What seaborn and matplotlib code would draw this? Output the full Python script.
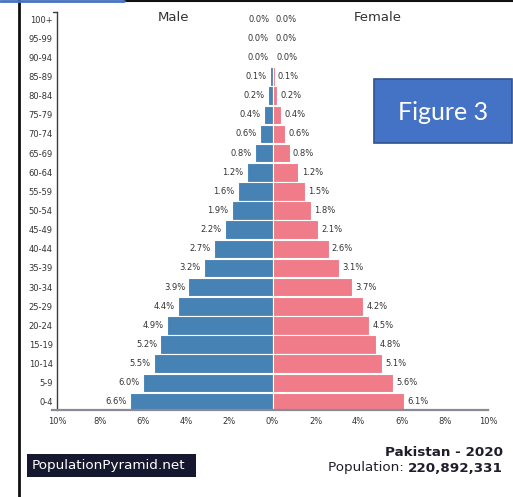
import pandas as pd
import seaborn as sns
import matplotlib.pyplot as plt
from matplotlib.lines import Line2D
from matplotlib.patches import Rectangle

ages = ["100+", "95-99", "90-94", "85-89", "80-84", "75-79", "70-74", "65-69",
        "60-64", "55-59", "50-54", "45-49", "40-44", "35-39", "30-34", "25-29",
        "20-24", "15-19", "10-14", "5-9", "0-4"]
male = [0.0, 0.01, 0.03, 0.1, 0.2, 0.4, 0.6, 0.8, 1.2, 1.6, 1.9, 2.2, 2.7,
        3.2, 3.9, 4.4, 4.9, 5.2, 5.5, 6.0, 6.6]
female = [0.0, 0.01, 0.03, 0.1, 0.2, 0.4, 0.6, 0.8, 1.2, 1.5, 1.8, 2.1, 2.6,
          3.1, 3.7, 4.2, 4.5, 4.8, 5.1, 5.6, 6.1]
xticks = [-10, -8, -6, -4, -2, 0, 2, 4, 6, 8, 10]

male_col = "#4682b4"
female_col = "#f07b89"
txt = "#333333"

df = pd.concat([
    pd.DataFrame({"age": ages, "sex": "Male", "pct": [-m for m in male]}),
    pd.DataFrame({"age": ages, "sex": "Female", "pct": female}),
])

sns.set_theme(style="white")
plt.rcParams["font.family"] = ["DejaVu Sans"]

fig = plt.figure(figsize=(5.13, 4.97), dpi=100)
ax = fig.add_axes([0.1006, 0.175, 0.8507, 0.8008])

sns.barplot(data=df, x="pct", y="age", hue="sex", order=ages, dodge=False,
            palette={"Male": male_col, "Female": female_col}, width=0.97,
            saturation=1, edgecolor="white", linewidth=0.8, legend=False, ax=ax)

ax.set_xlim(-10.25, 10)
ax.set_ylim(20.42, -0.37)
ax.set_xlabel("")
ax.set_ylabel("")
ax.set_xticks(xticks)
ax.set_xticklabels([f"{abs(t)}%" for t in xticks], fontsize=6, color=txt)
ax.tick_params(axis="x", length=4, width=0.8, color="#666666", pad=1, direction="out")
ax.tick_params(axis="y", length=0, labelsize=6, labelcolor=txt, pad=3)
for s in ["top", "right"]:
    ax.spines[s].set_visible(False)
ax.spines["left"].set_position(("data", -10))
ax.spines["left"].set_color("#3a3a4a")
ax.spines["left"].set_linewidth(1)
ax.spines["bottom"].set_color("#8a8a96")
ax.spines["bottom"].set_linewidth(1.6)
# outer top tick of the y axis
ax.plot([-10.2, -10], [-0.37, -0.37], color="#3a3a4a", lw=1, clip_on=False)

for i, (m, f) in enumerate(zip(male, female)):
    ax.text(-m - 0.15, i, f"{m:.1f}%", ha="right", va="center", fontsize=6, color=txt)
    ax.text(f + 0.15, i, f"{f:.1f}%", ha="left", va="center", fontsize=6, color=txt)

ax.text(-4.6, -0.1, "Male", ha="center", va="center", fontsize=9.5, color=txt)
ax.text(4.9, -0.1, "Female", ha="center", va="center", fontsize=9.5, color=txt)

# footer
fig.text(503 / 513, 1 - 452 / 497, "Pakistan - 2020", ha="right", va="center",
         fontsize=9.7, fontweight="bold", color="#1e1e2a")
num = fig.text(503 / 513, 1 - 468 / 497, "220,892,331", ha="right", va="center",
               fontsize=9.7, fontweight="bold", color="#1e1e2a")
ax.annotate("Population: ", xy=(0, 0), xycoords=num, ha="right", va="bottom",
            fontsize=9.7, color="#1e1e2a", annotation_clip=False)
fig.add_artist(Rectangle((27 / 513, 1 - 477 / 497), 169 / 513, 23 / 497,
                         transform=fig.transFigure, facecolor="#15182e", edgecolor="none"))
fig.text(32 / 513, 1 - 466 / 497, "PopulationPyramid.net", ha="left", va="center",
         fontsize=9.7, color="white")

# "Figure 3" box
fig.add_artist(Rectangle((374 / 513, 1 - 143 / 497), 138 / 513, 64 / 497,
                         transform=fig.transFigure, facecolor="#4472c4",
                         edgecolor="#2f528f", linewidth=1.2))
fig.text(443 / 513, 1 - 112 / 497, "Figure 3", ha="center", va="center",
         fontsize=18, color="white", family=["Lato", "DejaVu Sans"])

# screenshot frame lines
fig.add_artist(Line2D([19 / 513, 19 / 513], [0, 1], transform=fig.transFigure,
                      color="#111111", lw=2))
fig.add_artist(Line2D([124 / 513, 1], [1 - 1 / 497, 1 - 1 / 497], transform=fig.transFigure,
                      color="#111111", lw=1.5))
fig.add_artist(Line2D([0, 124 / 513], [1 - 1 / 497, 1 - 1 / 497], transform=fig.transFigure,
                      color="#4472c4", lw=2))

fig.savefig("out.png", dpi=100)
